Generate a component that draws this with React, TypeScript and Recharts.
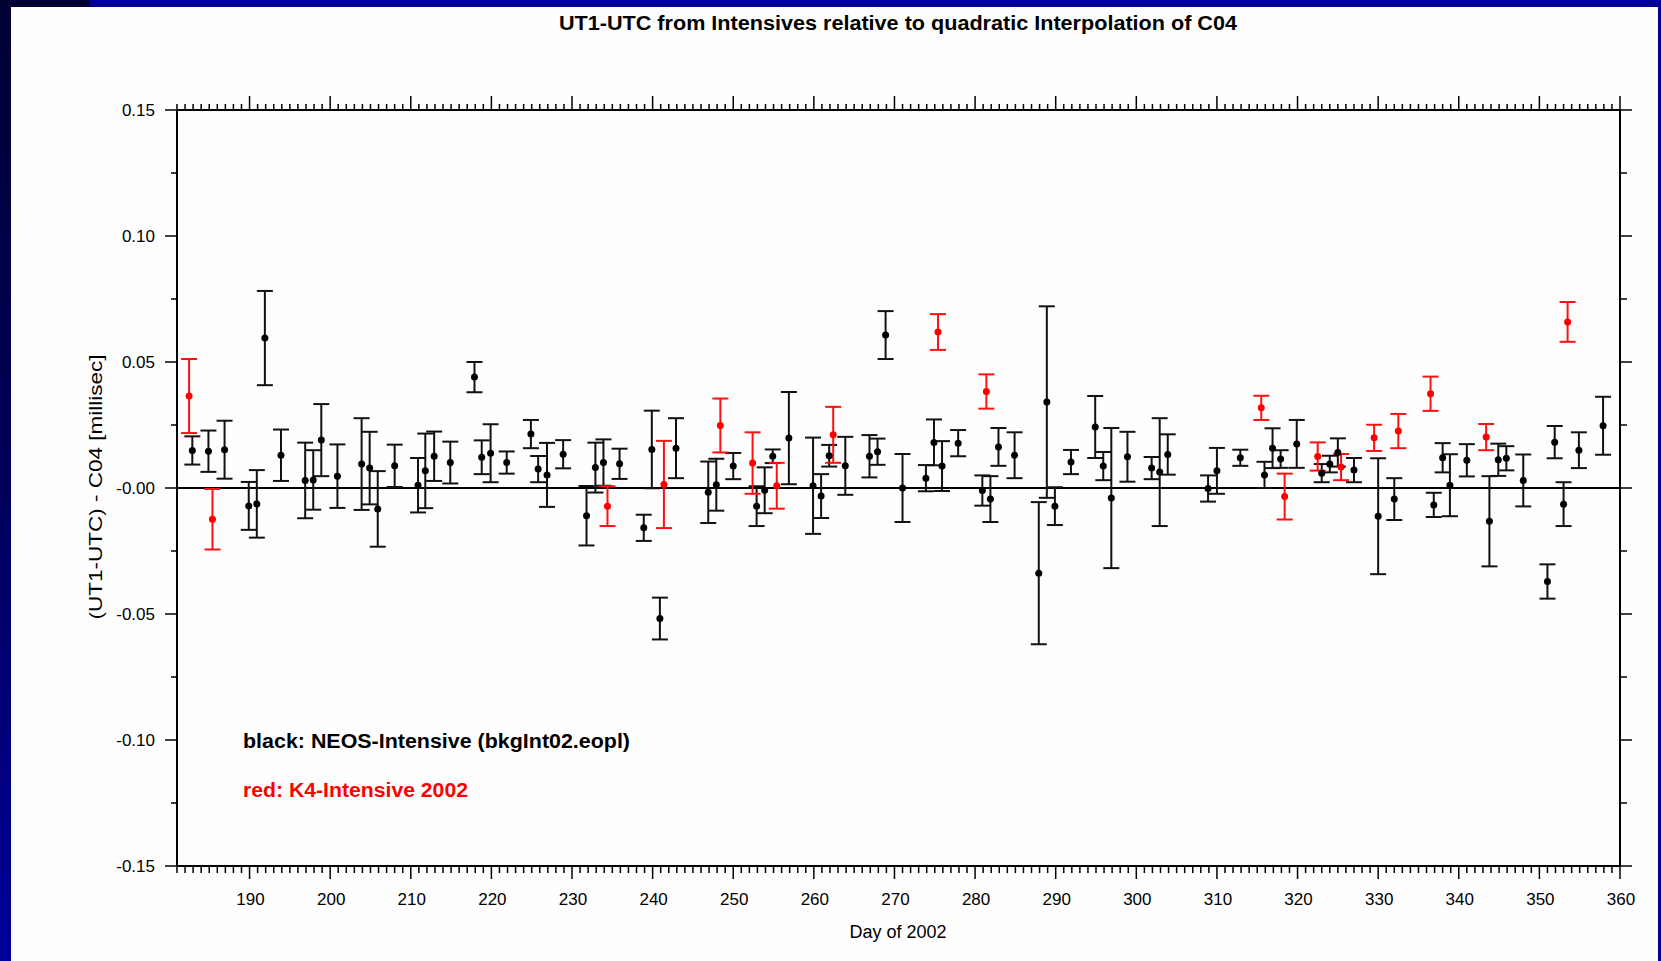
import { ScatterChart, Scatter, XAxis, YAxis, ErrorBar, ReferenceLine } from "recharts";

// NEOS-Intensive (black), day of 2002 / offset [ms] / formal error [ms]
const NEOS_DAYS = [
  182.9, 184.9, 186.9, 189.9, 190.9, 191.9, 193.9, 196.9, 197.9, 198.9,
  200.9, 203.9, 204.9, 205.9, 208.0, 210.9, 211.8, 212.9, 214.9, 217.9,
  218.8, 219.9, 221.9, 224.9, 225.8, 226.9, 228.9, 231.8, 232.9, 233.9,
  235.9, 238.9, 239.9, 240.9, 242.9, 246.9, 247.9, 250.0, 252.9, 253.9,
  254.9, 256.9, 259.9, 260.9, 261.9, 263.9, 266.9, 267.9, 268.9, 271.0,
  273.9, 274.9, 275.9, 277.9, 280.9, 281.9, 282.9, 284.9, 287.9, 288.9,
  289.9, 291.9, 294.9, 295.9, 296.9, 298.9, 301.9, 302.9, 303.9, 308.9,
  310.0, 312.9, 315.9, 316.9, 317.9, 319.9, 323.0, 324.0, 325.0, 327.0,
  330.0, 332.0, 336.9, 338.0, 338.9, 341.0, 343.8, 344.9, 345.9, 348.0,
  351.0, 351.9, 353.0, 354.9, 357.9,
];
const NEOS_VALUES = [
  0.0149, 0.0146, 0.0152, -0.0071, -0.0063, 0.0595, 0.013, 0.003, 0.0032, 0.019,
  0.0047, 0.0095, 0.0079, -0.0083, 0.0088, 0.0011, 0.0068, 0.0126, 0.0101, 0.044,
  0.0122, 0.0138, 0.0101, 0.0214, 0.0075, 0.0052, 0.0134, -0.011, 0.0081, 0.0101,
  0.0096, -0.0158, 0.0153, -0.0518, 0.0158, -0.0017, 0.0013, 0.0087, -0.0072, -0.0009,
  0.0126, 0.0198, 0.0009, -0.0032, 0.0128, 0.0088, 0.0126, 0.0144, 0.0607, 0.0,
  0.0039, 0.0181, 0.0087, 0.0178, -0.001, -0.0044, 0.0163, 0.013, -0.0338, 0.0341,
  -0.0072, 0.0103, 0.0242, 0.0087, -0.004, 0.0124, 0.0079, 0.0063, 0.0133, -0.0002,
  0.0068, 0.012, 0.0052, 0.0158, 0.0115, 0.0175, 0.0059, 0.0095, 0.0141, 0.0071,
  -0.0112, -0.0044, -0.0067, 0.012, 0.0011, 0.011, -0.0132, 0.0112, 0.0118, 0.003,
  -0.0371, 0.0182, -0.0064, 0.015, 0.0247,
];
const NEOS_ERRORS = [
  0.0056, 0.0082, 0.0115, 0.0095, 0.0134, 0.0187, 0.0102, 0.015, 0.0118, 0.0143,
  0.0126, 0.0182, 0.0144, 0.015, 0.0084, 0.0108, 0.0148, 0.0098, 0.0083, 0.006,
  0.0067, 0.0115, 0.0044, 0.0056, 0.0052, 0.0127, 0.0056, 0.0118, 0.0099, 0.0092,
  0.006, 0.0052, 0.0154, 0.0083, 0.0119, 0.0122, 0.0103, 0.0052, 0.0079, 0.0091,
  0.0027, 0.0183, 0.0191, 0.0087, 0.0043, 0.0115, 0.0084, 0.0052, 0.0095, 0.0135,
  0.0052, 0.0091, 0.0099, 0.0052, 0.006, 0.0091, 0.0075, 0.0091, 0.0282, 0.038,
  0.0075, 0.0048, 0.0123, 0.0056, 0.0278, 0.0099, 0.0044, 0.0214, 0.008, 0.0052,
  0.0091, 0.0032, 0.0052, 0.0079, 0.0035, 0.0095, 0.0036, 0.0033, 0.0056, 0.0048,
  0.023, 0.0083, 0.0048, 0.0058, 0.0123, 0.0064, 0.0179, 0.0064, 0.0048, 0.0103,
  0.0068, 0.0064, 0.0087, 0.0071, 0.0115,
];

// K4-Intensive 2002 (red)
const K4_DAYS = [
  182.5, 185.4, 234.4, 241.4, 248.4, 252.4, 255.4, 262.4, 275.4, 281.4,
  315.5, 318.4, 322.5, 325.4, 329.5, 332.5, 336.5, 343.4, 353.5,
];
const K4_VALUES = [
  0.0365, -0.0124, -0.0072, 0.0014, 0.0248, 0.0099, 0.0009, 0.0211, 0.0619, 0.0383,
  0.0318, -0.0034, 0.0125, 0.0083, 0.0199, 0.0226, 0.0374, 0.0202, 0.0659,
];
const K4_ERRORS = [
  0.0147, 0.012, 0.0079, 0.0173, 0.0107, 0.0122, 0.0091, 0.0111, 0.0071, 0.0068,
  0.0048, 0.0091, 0.0056, 0.0052, 0.0052, 0.0068, 0.0068, 0.0052, 0.0079,
];

const X_MAJOR_TICKS = [190, 200, 210, 220, 230, 240, 250, 260, 270, 280, 290, 300, 310, 320, 330, 340, 350, 360];
const X_MAJOR_LABELS = ["190", "200", "210", "220", "230", "240", "250", "260", "270", "280", "290", "300", "310", "320", "330", "340", "350", "360"];
const Y_TICKS = [-0.15, -0.125, -0.1, -0.075, -0.05, -0.025, 0, 0.025, 0.05, 0.075, 0.1, 0.125, 0.15];
const Y_MAJOR_TICKS = [0.15, 0.1, 0.05, 0, -0.05, -0.1, -0.15];
const Y_MAJOR_LABELS = ["0.15", "0.10", "0.05", "-0.00", "-0.05", "-0.10", "-0.15"];

const X_DOMAIN: [number, number] = [181, 360];
const Y_DOMAIN: [number, number] = [-0.15, 0.15];
const DAY_TICKS = Array.from({ length: 180 }, (_, i) => 181 + i);

const FONT = "'Liberation Sans', Arial, Helvetica, sans-serif";
const W = 1661;
const H = 961;

const neos = NEOS_DAYS.map((day, i) => ({ day, value: NEOS_VALUES[i], err: NEOS_ERRORS[i] }));
const k4 = K4_DAYS.map((day, i) => ({ day, value: K4_VALUES[i], err: K4_ERRORS[i] }));

function xLabel(v: number) {
  const i = X_MAJOR_TICKS.indexOf(Math.round(v));
  return Math.abs(v - Math.round(v)) < 1e-6 && i >= 0 ? X_MAJOR_LABELS[i] : null;
}

function yLabel(v: number) {
  const i = Y_MAJOR_TICKS.findIndex((t) => Math.abs(t - v) < 1e-9);
  return i >= 0 ? Y_MAJOR_LABELS[i] : null;
}

function BottomTick({ x, y, payload }: any) {
  const label = xLabel(payload.value);
  return (
    <g>
      <line x1={x} x2={x} y1={y} y2={y + (label ? 13 : 7)} stroke="#000" strokeWidth={1.5} />
      {label && (
        <text x={x + 1} y={y + 39} textAnchor="middle" fontFamily={FONT} fontSize={17} fill="#000">
          {label}
        </text>
      )}
    </g>
  );
}

function TopTick({ x, y, payload }: any) {
  const major = xLabel(payload.value) !== null;
  return <line x1={x} x2={x} y1={y} y2={y - (major ? 14 : 6)} stroke="#000" strokeWidth={1.5} />;
}

function LeftTick({ x, y, payload }: any) {
  const label = yLabel(payload.value);
  return (
    <g>
      <line x1={x} x2={x - (label ? 12 : 6)} y1={y} y2={y} stroke="#000" strokeWidth={1.5} />
      {label && (
        <text x={x - 22} y={y + 6} textAnchor="end" fontFamily={FONT} fontSize={17} fill="#000">
          {label}
        </text>
      )}
    </g>
  );
}

function RightTick({ x, y, payload }: any) {
  const major = yLabel(payload.value) !== null;
  return <line x1={x} x2={x + (major ? 12 : 7)} y1={y} y2={y} stroke="#000" strokeWidth={1.5} />;
}

const dot = (color: string) => (props: any) =>
  <circle cx={props.cx} cy={props.cy} r={3.5} fill={color} />;

export default function App() {
  return (
    <div style={{ position: "absolute", left: 0, top: 0, width: W, height: H, background: "#000099", overflow: "hidden" }}>
      {/* dark left edge of the slide frame */}
      <div
        style={{
          position: "absolute", left: 0, top: 0, width: 90, height: H,
          background: "linear-gradient(to bottom, #000033 0%, #00005a 50%, #000099 100%)",
        }}
      />
      <div style={{ position: "absolute", left: 11, top: 7, width: 1647, height: H - 7, background: "#fefefe" }} />

      <div style={{ position: "absolute", left: 0, top: 0 }}>
        <ScatterChart width={W} height={H} margin={{ top: 109, left: 176, right: 40, bottom: 94 }}>
          <XAxis
            xAxisId="bottom" type="number" dataKey="day" domain={X_DOMAIN} allowDataOverflow
            ticks={DAY_TICKS} interval={0} height={1} tickSize={0} tickMargin={0} tickLine={false}
            axisLine={{ stroke: "#000", strokeWidth: 2 }} tick={<BottomTick />}
          />
          <XAxis
            xAxisId="top" orientation="top" type="number" dataKey="day" domain={X_DOMAIN} allowDataOverflow
            ticks={DAY_TICKS} interval={0} height={1} tickSize={0} tickMargin={0} tickLine={false}
            axisLine={{ stroke: "#000", strokeWidth: 2 }} tick={<TopTick />}
          />
          <YAxis
            yAxisId="left" type="number" dataKey="value" domain={Y_DOMAIN} allowDataOverflow
            ticks={Y_TICKS} interval={0} width={1} tickSize={0} tickMargin={0} tickLine={false}
            axisLine={{ stroke: "#000", strokeWidth: 2 }} tick={<LeftTick />}
          />
          <YAxis
            yAxisId="right" orientation="right" type="number" domain={Y_DOMAIN} allowDataOverflow
            ticks={Y_TICKS} interval={0} width={1} tickSize={0} tickMargin={0} tickLine={false}
            axisLine={{ stroke: "#000", strokeWidth: 2 }} tick={<RightTick />}
          />
          <ReferenceLine xAxisId="bottom" yAxisId="left" y={0} stroke="#000" strokeWidth={2} />
          <Scatter
            name="NEOS-Intensive" data={neos} xAxisId="bottom" yAxisId="left"
            fill="#000" shape={dot("#000")} isAnimationActive={false}
          >
            <ErrorBar dataKey="err" direction="y" width={8} stroke="#111" strokeWidth={2} isAnimationActive={false} />
          </Scatter>
          {/* top and bottom axes share the same domain and range, so K4 can sit on the top one */}
          <Scatter
            name="K4-Intensive 2002" data={k4} xAxisId="top" yAxisId="left"
            fill="#ff0000" shape={dot("#ff0000")} isAnimationActive={false}
          >
            <ErrorBar dataKey="err" direction="y" width={8} stroke="#ff1010" strokeWidth={2} isAnimationActive={false} />
          </Scatter>
        </ScatterChart>
      </div>

      {/* titles and notes */}
      <svg width={W} height={H} style={{ position: "absolute", left: 0, top: 0, pointerEvents: "none" }}>
        <text x={898} y={30} textAnchor="middle" fontFamily={FONT} fontWeight="bold" fontSize={20}
          textLength={678} lengthAdjust="spacingAndGlyphs" fill="#000">
          UT1-UTC from Intensives relative to quadratic Interpolation of C04
        </text>
        <text x={898} y={938} textAnchor="middle" fontFamily={FONT} fontSize={18} fill="#000">
          Day of 2002
        </text>
        <text transform="translate(102,487) rotate(-90)" textAnchor="middle" fontFamily={FONT} fontSize={18}
          textLength={265} lengthAdjust="spacingAndGlyphs" fill="#000">
          (UT1-UTC) - C04 [millisec]
        </text>
        <text x={243} y={748} fontFamily={FONT} fontWeight="bold" fontSize={20}
          textLength={387} lengthAdjust="spacingAndGlyphs" fill="#000">
          black: NEOS-Intensive (bkgInt02.eopl)
        </text>
        <text x={243} y={797} fontFamily={FONT} fontWeight="bold" fontSize={20}
          textLength={225} lengthAdjust="spacingAndGlyphs" fill="#ff0000">
          red: K4-Intensive 2002
        </text>
      </svg>
    </div>
  );
}
